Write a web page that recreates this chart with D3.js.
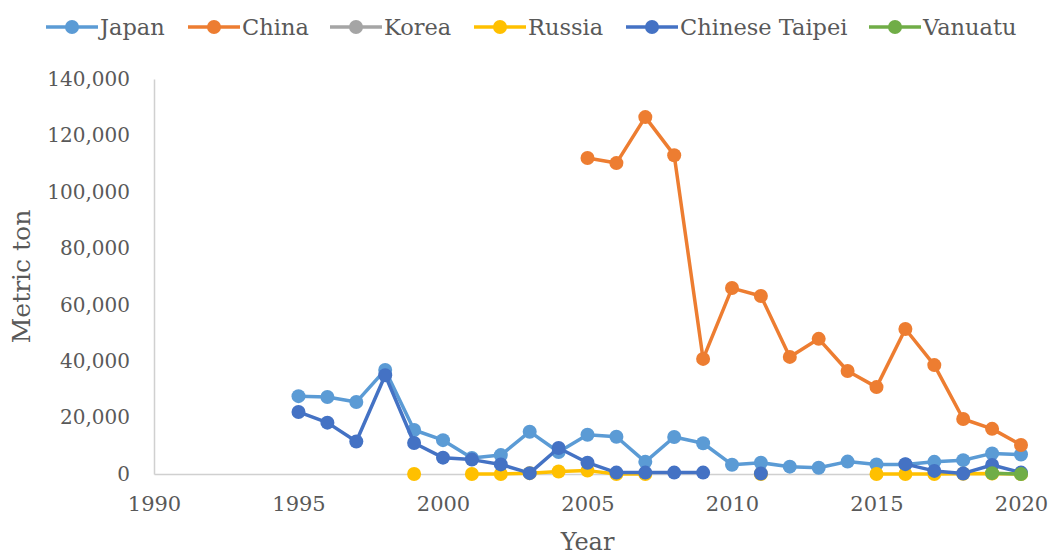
<!DOCTYPE html>
<html>
<head>
<meta charset="utf-8">
<script src="https://cdn.jsdelivr.net/npm/d3@7"></script>
<style>
  body { margin: 0; background: #fff; }
  svg text { font-family: "DejaVu Serif", serif; fill: #595959; }
</style>
</head>
<body>
<svg id="chart" width="1051" height="556"></svg>
<script>
// chart data (null = no value that year)
const seriesNames = ["Japan", "China", "Korea", "Russia", "Chinese Taipei", "Vanuatu"];
const seriesColors = ["#5B9BD5", "#ED7D31", "#A5A5A5", "#FFC000", "#4472C4", "#70AD47"];

// values from 1995 to 2020
const japan = [27600, 27300, 25500, 36900, 15600, 12000, 5700, 6700, 15000, 7800,
               13900, 13200, 4300, 13100, 10900, 3300, 4000, 2600, 2200, 4400,
               3400, 3400, 4300, 4900, 7300, 6900];
const china = [null, null, null, null, null, null, null, null, null, null,
               112000, 110200, 126500, 113000, 40800, 65900, 63100, 41500, 47900, 36500,
               30800, 51400, 38600, 19500, 16000, 10300];
const korea = [null, null, null, null, null, null, null, null, null, null,
               null, null, null, null, null, null, null, null, null, null,
               null, null, null, null, null, null];
const russia = [null, null, null, null, 0, null, 0, 0, 300, 900,
                1200, 0, 0, null, null, null, 0, null, null, null,
                0, 0, 0, 100, 200, 0];
const taipei = [22000, 18200, 11500, 35000, 11000, 5800, 5100, 3400, 300, 9200,
                4000, 500, 500, 500, 500, null, 200, null, null, null,
                null, 3500, 1100, 200, 3200, 500];
const vanuatu = [null, null, null, null, null, null, null, null, null, null,
                 null, null, null, null, null, null, null, null, null, null,
                 null, null, null, null, 300, 0];

const yTicks = [0, 20000, 40000, 60000, 80000, 100000, 120000, 140000];
const xTicks = [1990, 1995, 2000, 2005, 2010, 2015, 2020];

const allSeries = [japan, china, korea, russia, taipei, vanuatu].map((vals, i) => ({
    name: seriesNames[i],
    color: seriesColors[i],
    points: vals.map((v, j) => ({year: 1995 + j, value: v}))
}));

const svg = d3.select("#chart");
const margin = {left: 154, right: 30, top: 79, bottom: 82};
const width = 1051 - margin.left - margin.right;
const height = 556 - margin.top - margin.bottom;

const x = d3.scaleLinear().domain([1990, 2020]).range([margin.left, margin.left + width]);
const y = d3.scaleLinear().domain([0, 140000]).range([margin.top + height, margin.top]);

// axes
const xAxis = d3.axisBottom(x).tickValues(xTicks).tickFormat(d3.format("d")).tickSize(0).tickPadding(22);
const yAxis = d3.axisLeft(y).tickValues(yTicks).tickFormat(d3.format(",")).tickSize(0).tickPadding(24);

const gx = svg.append("g")
    .attr("transform", "translate(0," + (margin.top + height) + ")")
    .call(xAxis);
const gy = svg.append("g")
    .attr("transform", "translate(" + margin.left + ",0)")
    .call(yAxis);

[gx, gy].forEach(g => {
    g.select(".domain").attr("stroke", "#d0d0d0").attr("stroke-width", 1.5);
    g.selectAll("text").attr("font-family", "DejaVu Serif").attr("fill", "#595959");
});
gx.selectAll("text").attr("font-size", 21);
gy.selectAll("text").attr("font-size", 20);

// axis titles
svg.append("text")
    .attr("x", x(2005))
    .attr("y", 550)
    .attr("text-anchor", "middle")
    .attr("font-size", 24)
    .text("Year");

svg.append("text")
    .attr("transform", "translate(30," + (margin.top + height / 2) + ") rotate(-90)")
    .attr("text-anchor", "middle")
    .attr("font-size", 25)
    .text("Metric ton");

// series lines + markers
const line = d3.line()
    .defined(d => d.value !== null)
    .x(d => x(d.year))
    .y(d => y(d.value));

allSeries.forEach(s => {
    const g = svg.append("g");
    g.append("path")
        .datum(s.points)
        .attr("d", line)
        .attr("fill", "none")
        .attr("stroke", s.color)
        .attr("stroke-width", 3.5)
        .attr("stroke-linejoin", "round");
    g.selectAll("circle")
        .data(s.points.filter(d => d.value !== null))
        .enter()
        .append("circle")
        .attr("cx", d => x(d.year))
        .attr("cy", d => y(d.value))
        .attr("r", 7)
        .attr("fill", s.color);
});

// legend
const legendX = [72, 214, 356, 500, 652, 895];
const legend = svg.append("g");
allSeries.forEach((s, i) => {
    const item = legend.append("g").attr("transform", "translate(" + legendX[i] + ",27)");
    item.append("line")
        .attr("x1", -26).attr("x2", 26)
        .attr("stroke", s.color).attr("stroke-width", 3.5);
    item.append("circle").attr("r", 7).attr("fill", s.color);
    item.append("text")
        .attr("x", 28)
        .attr("y", 8)
        .attr("font-size", 22.5)
        .text(s.name);
});
</script>
</body>
</html>
